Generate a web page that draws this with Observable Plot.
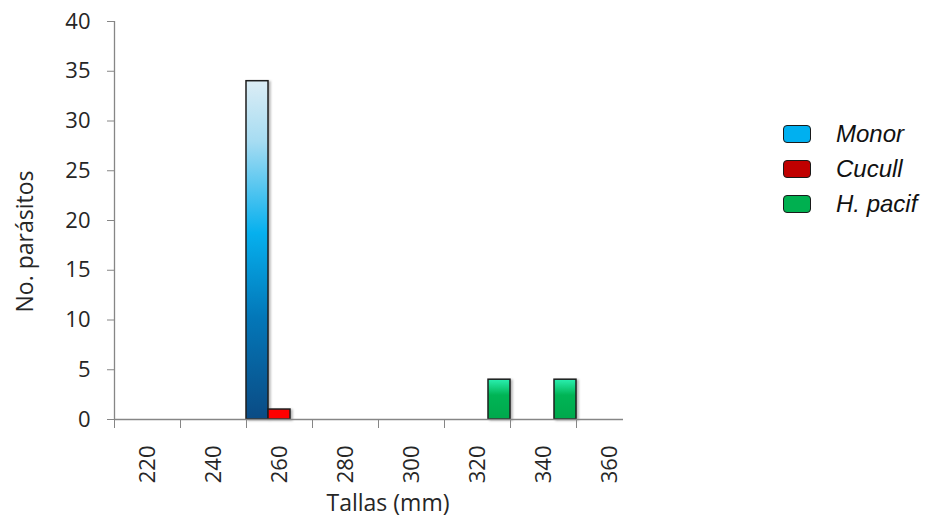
<!DOCTYPE html>
<html>
<head>
<meta charset="utf-8">
<script src="https://cdn.jsdelivr.net/npm/d3@7"></script>
<script src="https://cdn.jsdelivr.net/npm/@observablehq/plot@0.6"></script>
<style>
  html, body { margin: 0; padding: 0; background: #fff; }
  #wrap { position: relative; width: 937px; height: 517px; }
  #legend { position: absolute; left: 783px; top: 117px; font-family: "Liberation Sans", Arial, sans-serif; font-style: italic; font-size: 24px; color: #111; }
  .item { display: flex; align-items: center; height: 34.7px; }
  .sw { width: 26px; height: 16px; border: 1.6px solid #1a1a1a; border-radius: 4px; margin-right: 25px; box-sizing: content-box; }
  g[aria-label="rect"] { filter: drop-shadow(2px 1px 1px rgba(0,0,0,0.28)); }
</style>
</head>
<body>
<div id="wrap"></div>
<script>
const categories = [220, 240, 260, 280, 300, 320, 340, 360];
const seriesNames = ["Monor", "Cucull", "H. pacif"];
const monor  = [0, 0, 34, 0, 0, 0, 0, 0];
const cucull = [0, 0, 1, 0, 0, 0, 0, 0];
const hpacif = [0, 0, 0, 0, 0, 4, 4, 0];
const yTicks = [0, 5, 10, 15, 20, 25, 30, 35, 40];
const barFills = ["url(#gMonor)", "#ff0000", "url(#gHpacif)"];
const legendFills = ["#00b0f0", "#c00000", "#00b050"];

const seriesValues = [monor, cucull, hpacif];
const step = categories[1] - categories[0];
const boundaries = categories.map(c => c - step / 2);
const rows = [];
seriesValues.forEach((vals, si) => {
  vals.forEach((v, ci) => {
    if (v > 0) {
      const x1 = categories[ci] - step / 2 + si * step / seriesValues.length;
      rows.push({talla: categories[ci], series: seriesNames[si], value: v, x1, x2: x1 + step / seriesValues.length, fill: barFills[si]});
    }
  });
});

const defs = () => {
  const d = d3.create("svg:defs");
  const g1 = d.append("linearGradient").attr("id", "gMonor").attr("x1", 0).attr("y1", 0).attr("x2", 0).attr("y2", 1);
  [[0, "#dcedf5"], [0.18, "#a6dcf2"], [0.45, "#06b0ee"], [0.7, "#0377b8"], [1, "#0b4b84"]]
    .forEach(([o, c]) => g1.append("stop").attr("offset", o).attr("stop-color", c));
  const g2 = d.append("linearGradient").attr("id", "gHpacif").attr("x1", 0).attr("y1", 0).attr("x2", 0).attr("y2", 1);
  [[0, "#2af0b0"], [0.4, "#00b455"], [1, "#00a84c"]]
    .forEach(([o, c]) => g2.append("stop").attr("offset", o).attr("stop-color", c));
  return d.node();
};

const xDomain = [boundaries[0], categories[categories.length - 1] + step / 2];
const textColor = "#262626";

const chart = Plot.plot({
  width: 937,
  height: 517,
  marginLeft: 114,
  marginRight: 314,
  marginTop: 21,
  marginBottom: 98,
  style: {fontFamily: "'Open Sans', sans-serif", fontSize: "22px", color: textColor, background: "#fff"},
  x: {type: "linear", domain: xDomain, range: [114, 642]},
  y: {domain: [0, 40]},
  marks: [
    defs,
    Plot.rectY(rows, {x1: "x1", x2: "x2", y: "value", fill: "fill", stroke: "#1e1e1e", strokeWidth: 1.5}),
    Plot.ruleX([xDomain[0]], {stroke: "#868686", strokeWidth: 1.3}),
    Plot.ruleY([0], {stroke: "#868686", strokeWidth: 1.3}),
    Plot.axisY(yTicks, {tickSize: 7, tickPadding: 17, stroke: "#868686", fill: textColor, fontSize: 22, label: null}),
    Plot.axisX(boundaries, {tickSize: 9, tickFormat: () => "", stroke: "#868686", label: null}),
    Plot.axisX(categories, {tickSize: 0, tickRotate: -90, tickPadding: 26, fill: textColor, fontSize: 22, label: null}),
    Plot.text(["No. parásitos"], {frameAnchor: "left", textAnchor: "middle", lineAnchor: "middle", rotate: -90, dx: -89, dy: 21, fontSize: 23, fill: textColor}),
    Plot.text(["Tallas (mm)"], {frameAnchor: "bottom", textAnchor: "middle", lineAnchor: "middle", dx: 19, dy: 84, fontSize: 23, fill: textColor})
  ]
});

const wrap = document.getElementById("wrap");
wrap.appendChild(chart);
const legend = document.createElement("div");
legend.id = "legend";
seriesNames.forEach((name, i) => {
  const item = document.createElement("div");
  item.className = "item";
  const sw = document.createElement("span");
  sw.className = "sw";
  sw.style.background = legendFills[i];
  const t = document.createElement("span");
  t.textContent = name;
  item.appendChild(sw);
  item.appendChild(t);
  legend.appendChild(item);
});
wrap.appendChild(legend);
</script>
</body>
</html>
